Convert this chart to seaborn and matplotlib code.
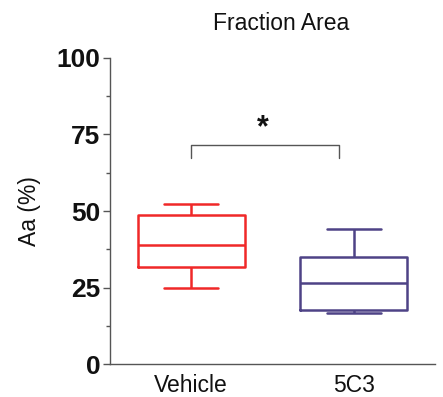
import pandas as pd
import seaborn as sns
import matplotlib.pyplot as plt
import numpy as np

# Box summary values (min, Q1, median, Q3, max)
groups = ['Vehicle', '5C3']
vehicle_vals = [24.8, 31.8, 38.8, 48.6, 52.3]
c5c3_vals = [16.7, 17.8, 26.4, 35.0, 44.2]
colors = ['#f02828', '#4e4386']
yticks = [0, 25, 50, 75, 100]

df = pd.DataFrame({
    'group': [groups[0]] * len(vehicle_vals) + [groups[1]] * len(c5c3_vals),
    'value': vehicle_vals + c5c3_vals,
})

sns.set_style('white')
plt.rcParams['font.family'] = ['Liberation Sans', 'DejaVu Sans']
plt.rcParams['text.color'] = '#111111'
plt.rcParams['axes.labelcolor'] = '#111111'
plt.rcParams['xtick.color'] = '#111111'
plt.rcParams['ytick.color'] = '#111111'

fig = plt.figure(figsize=(4.43, 3.97), dpi=100)
ax = fig.add_axes([0.248, 0.083, 0.734, 0.771])

sns.boxplot(data=df, x='group', y='value', hue='group', palette=colors,
            fill=False, whis=np.inf, width=0.66, linewidth=1.8,
            legend=False, ax=ax)

ax.set_xlim(-0.5, 1.5)
ax.set_ylim(0, 100)
ax.set_yticks(yticks)
ax.set_yticks(np.arange(12.5, 100, 25), minor=True)
ax.set_yticklabels([str(t) for t in yticks], fontsize=19, fontweight='bold')
ax.tick_params(axis='y', which='major', length=5, width=1, color='#555555', direction='out', left=True, pad=2)
ax.tick_params(axis='y', which='minor', length=3, width=1, color='#555555', direction='out', left=True)
ax.tick_params(axis='x', length=0, labelsize=16.5, pad=7)
ax.set_xlabel('')
ax.set_ylabel('Aa (%)', fontsize=16.5, labelpad=11)

sns.despine(ax=ax)
for side in ['left', 'bottom']:
    ax.spines[side].set_color('#555555')
    ax.spines[side].set_linewidth(1)

# significance bracket
ax.plot([0, 0, 0.91, 0.91], [67.3, 71.7, 71.7, 67.3], color='#555555', lw=1)
ax.text(0.44, 72, '*', ha='center', va='bottom', fontsize=22, fontweight='bold')

fig.text(0.634, 0.94, 'Fraction Area', ha='center', va='center', fontsize=16.5)

fig.savefig('out.png', dpi=100)
